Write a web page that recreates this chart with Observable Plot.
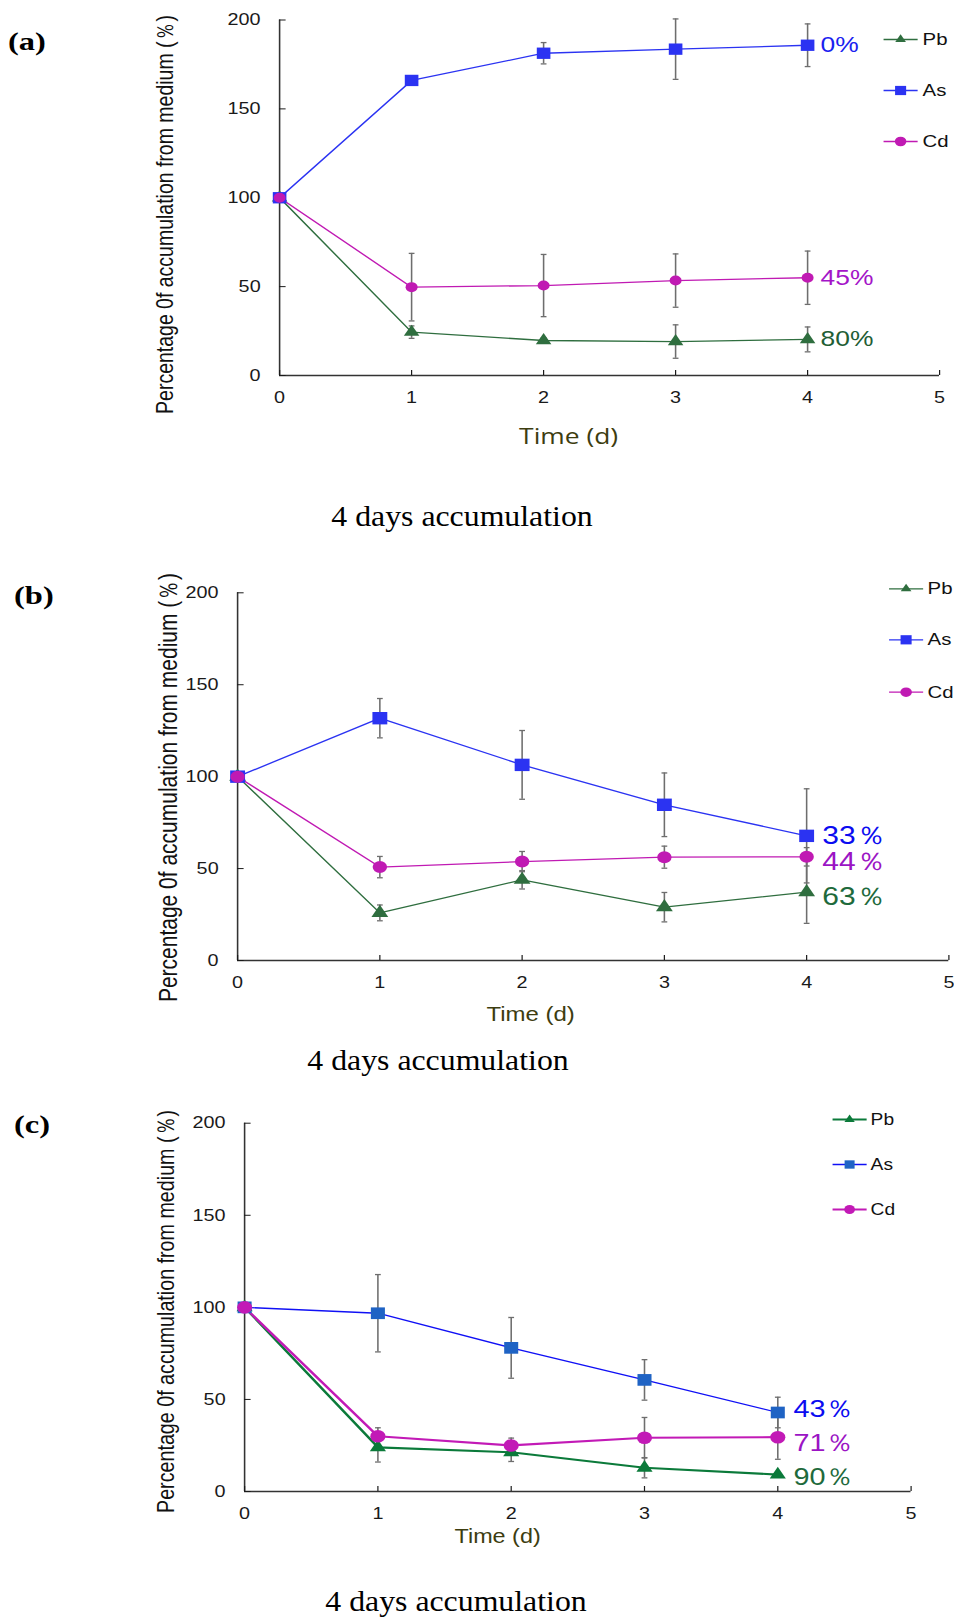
<!DOCTYPE html>
<html><head><meta charset="utf-8">
<script src="https://cdn.jsdelivr.net/npm/d3@7"></script>
<script src="https://cdn.jsdelivr.net/npm/@observablehq/plot@0.6"></script>
<style>
body{margin:0;background:#fff;}
#page{position:relative;width:954px;height:1618px;overflow:hidden;background:#fff;}
.panel{position:absolute;left:0;}
.panel svg{transform:scaleX(1.2);transform-origin:0 0;display:block;}
.letter{position:absolute;font-family:"Liberation Serif","Times New Roman",serif;font-weight:bold;font-size:26px;line-height:1;color:#000;white-space:nowrap;transform:scaleX(1.25);transform-origin:0 0;}
.caption{position:absolute;font-family:"Liberation Serif","Times New Roman",serif;font-size:30px;line-height:1;color:#000;white-space:nowrap;transform:translateX(-50%) scaleX(1.06);}
</style></head><body><div id="page"></div>
<script>
// ---------- data ----------
const days = [0, 1, 2, 3, 4];
const xTicks = [0, 1, 2, 3, 4, 5];
const yTicks = [0, 50, 100, 150, 200];
const metals = ["Pb", "As", "Cd"];

// panel (a)
const pbA = [100, 24.4, 19.7, 19.1, 20.3];
const pbAErr = [0, 3.5, 1.5, 9.4, 7];
const asA = [100, 166, 181.3, 183.6, 185.8];
const asAErr = [0, 0, 6, 17, 12];
const cdA = [100, 49.7, 50.6, 53.4, 55];
const cdAErr = [0, 19, 17.5, 15, 15];
const endLabelsA = ["80%", "0%", "45%"];

// panel (b)
const pbB = [100, 25.9, 43.9, 29, 37.2];
const pbBErr = [0, 4.3, 5, 8, 17];
const asB = [100, 131.8, 106.4, 84.7, 67.8];
const asBErr = [0, 10.7, 18.7, 17.3, 25.6];
const cdB = [100, 50.8, 53.8, 56.2, 56.4];
const cdBErr = [0, 5.8, 5.5, 6, 5];
const endLabelsB = ["63％", "33％", "44％"];

// panel (c)
const pbC = [100, 24, 21.3, 12.9, 9.2];
const pbCErr = [0, 8, 5, 5.5, 0];
const asC = [100, 96.8, 78, 60.6, 42.9];
const asCErr = [0, 21, 16.5, 11, 8.3];
const cdC = [100, 30, 25, 29.2, 29.5];
const cdCErr = [0, 4.6, 4, 11, 12];
const endLabelsC = ["90％", "43％", "71％"];

const yTitle = "Percentage 0f accumulation from medium (％)";
const xTitle = "Time (d)";
const caption = "4 days accumulation";

// ---------- drawing ----------
const S = 1.2;            // horizontal stretch of the original figure
const W = 954 / S;
const page = document.getElementById("page");

const capSym = {draw(c) { c.moveTo(-2.4, 0); c.lineTo(2.4, 0); }};
const legLine = {draw(c) { c.moveTo(-14.2, 0); c.lineTo(14.2, 0); }};
const symbolsOf = {Pb: "triangle", As: "square", Cd: "circle"};

function makePanel(p) {
  const mL = p.x0 / S, mR = W - p.x5 / S, mT = p.yTop, mB = p.height - p.yBot;
  const at = (px, py) => ({frameAnchor: "top-left", dx: px / S - mL, dy: py - mT});
  const series = [
    {name: "Pb", v: p.pb, e: p.pbErr, st: p.style.Pb},
    {name: "As", v: p.as, e: p.asErr, st: p.style.As},
    {name: "Cd", v: p.cd, e: p.cdErr, st: p.style.Cd}
  ];
  const rows = [];
  series.forEach(s => s.v.forEach((v, i) => rows.push({metal: s.name, day: days[i], v, e: s.e[i]})));
  const errRows = rows.filter(d => d.e > 0);
  const marks = [
    Plot.ruleY([0], {stroke: "#333", strokeWidth: 1.3}),
    Plot.ruleX([0], {stroke: "#333", strokeWidth: 1.3}),
    Plot.axisX({ticks: xTicks, tickSize: -5, tickPadding: 21, tickFormat: d => String(d), label: null, color: "#1a1a1a", fontSize: 16.5}),
    Plot.axisY({ticks: yTicks, tickSize: -5.5, tickPadding: 21.3, tickFormat: d => String(d), label: null, color: "#1a1a1a", fontSize: 16.5}),
    Plot.ruleX(errRows, {x: "day", y1: d => d.v - d.e, y2: d => d.v + d.e, stroke: "#6e6e6e", strokeWidth: 1.3}),
    Plot.dot(errRows, {x: "day", y: d => d.v + d.e, symbol: capSym, stroke: "#6e6e6e", fill: "none", strokeWidth: 1.3}),
    Plot.dot(errRows, {x: "day", y: d => d.v - d.e, symbol: capSym, stroke: "#6e6e6e", fill: "none", strokeWidth: 1.3})
  ];
  for (const s of series) {
    marks.push(Plot.line(rows.filter(d => d.metal === s.name), {x: "day", y: "v", stroke: s.st.line, strokeWidth: s.st.lw}));
  }
  for (const s of series) {
    marks.push(Plot.dot(rows.filter(d => d.metal === s.name), {x: "day", y: "v", symbol: symbolsOf[s.name], fill: s.st.marker, stroke: "none", r: s.st.r}));
  }
  // end labels (retention)
  series.forEach((s, k) => {
    const last = rows.filter(d => d.metal === s.name && d.day === 4);
    marks.push(Plot.text(last, {x: "day", y: "v", text: () => p.labels[k], dx: p.labelDx, dy: p.labelDy[k],
      textAnchor: "start", lineAnchor: "middle", fill: s.st.label, fontSize: p.labelSize, fontFamily: "Liberation Sans, Arial, sans-serif"}));
  });
  // legend
  metals.forEach((m, k) => {
    const st = p.style[m];
    const ly = p.legY[k];
    marks.push(Plot.dot([m], {...at(p.legX, ly), symbol: legLine, stroke: st.line, fill: "none", strokeWidth: st.lw}));
    marks.push(Plot.dot([m], {...at(p.legX, ly), symbol: symbolsOf[m], fill: st.marker, stroke: "none", r: st.legR}));
    marks.push(Plot.text([m], {...at(p.legTextX, ly), text: d => d, textAnchor: "start", lineAnchor: "middle", fontSize: p.legSize, fill: "#111"}));
  });
  // axis titles
  marks.push(Plot.text([yTitle], {...at(p.yTitle[0], p.yTitle[1]), text: d => d, rotate: -90, textAnchor: "middle", lineAnchor: "middle",
    fontSize: p.yTitleSize, fill: "#111"}));
  marks.push(Plot.text([xTitle], {...at(p.xTitle[0], p.xTitle[1]), text: d => d, textAnchor: "middle", lineAnchor: "middle",
    fontSize: p.xTitleSize, fontFamily: p.xTitleFont, fill: "#3d3d10"}));

  const svg = Plot.plot({
    width: W, height: p.height,
    marginLeft: mL, marginRight: mR, marginTop: mT, marginBottom: mB,
    x: {domain: [0, 5], label: null},
    y: {domain: [0, 200], label: null},
    style: {fontFamily: "Liberation Sans, Arial, sans-serif", fontSize: "16.5px", background: "transparent", overflow: "visible"},
    marks
  });
  const div = document.createElement("div");
  div.className = "panel";
  div.style.top = p.top + "px";
  div.appendChild(svg);
  page.appendChild(div);

  const letter = document.createElement("div");
  letter.className = "letter";
  letter.textContent = p.letter;
  letter.style.left = p.letterPos[0] + "px";
  letter.style.top = (p.letterPos[1] - 15.1) + "px";
  page.appendChild(letter);

  const cap = document.createElement("div");
  cap.className = "caption";
  cap.textContent = caption;
  cap.style.left = p.capPos[0] + "px";
  cap.style.top = (p.capPos[1] - 15) + "px";
  page.appendChild(cap);
}

const styleAB = {
  Pb: {line: "#2f6e3f", marker: "#2f6e3f", label: "#1f5e35", lw: 1.3, r: 4.8, legR: 3.3},
  As: {line: "#2b33f2", marker: "#2b33f2", label: "#1a22f0", lw: 1.3, r: 6.4, legR: 5.2},
  Cd: {line: "#c01ab3", marker: "#c01ab3", label: "#a414c8", lw: 1.3, r: 5, legR: 4.8}
};

makePanel({
  top: 0, height: 460, x0: 279, x5: 939, yTop: 19.5, yBot: 375,
  pb: pbA, pbErr: pbAErr, as: asA, asErr: asAErr, cd: cdA, cdErr: cdAErr,
  style: styleAB, labels: endLabelsA, labelDx: 10.8, labelDy: [0, 0, 0], labelSize: 22,
  legX: 900, legTextX: 922, legY: [39, 90, 141], legSize: 17,
  yTitle: [165, 214], yTitleSize: 19.5, xTitle: [568, 436], xTitleSize: 22, xTitleFont: "Open Sans, sans-serif",
  letter: "(a)", letterPos: [8, 44.5], capPos: [462, 516]
});

makePanel({
  top: 540, height: 500, x0: 237, x5: 948.3, yTop: 52.3, yBot: 420,
  pb: pbB, pbErr: pbBErr, as: asB, asErr: asBErr, cd: cdB, cdErr: cdBErr,
  style: {
    Pb: {...styleAB.Pb, r: 5.2, label: "#1e6a3c"},
    As: {...styleAB.As, r: 7, label: "#0b0bf0"},
    Cd: {...styleAB.Cd, r: 6, label: "#9b14c4"}
  },
  labels: endLabelsB, labelDx: 13, labelDy: [5, 0, 5], labelSize: 25,
  legX: 905.5, legTextX: 927, legY: [48.3, 99.3, 151.7], legSize: 17,
  yTitle: [168, 247], yTitleSize: 21, xTitle: [530, 474], xTitleSize: 20, xTitleFont: "Liberation Sans, Arial, sans-serif",
  letter: "(b)", letterPos: [14, 598], capPos: [438, 1060]
});

makePanel({
  top: 1090, height: 460, x0: 244, x5: 910.5, yTop: 32.7, yBot: 401,
  pb: pbC, pbErr: pbCErr, as: asC, asErr: asCErr, cd: cdC, cdErr: cdCErr,
  style: {
    Pb: {line: "#0b7a3a", marker: "#0b7a3a", label: "#1e6a3c", lw: 2.2, r: 5, legR: 3.2},
    As: {line: "#1010f5", marker: "#1f63c4", label: "#0b0bf0", lw: 1.3, r: 6.6, legR: 4.7},
    Cd: {line: "#c21ab6", marker: "#c21ab6", label: "#9b14c4", lw: 2.2, r: 6.3, legR: 4.5}
  },
  labels: endLabelsC, labelDx: 13, labelDy: [3, -3, 6], labelSize: 24,
  legX: 849, legTextX: 870, legY: [29, 74, 119], legSize: 16,
  yTitle: [166, 221], yTitleSize: 19.7, xTitle: [497, 446], xTitleSize: 19.5, xTitleFont: "Liberation Sans, Arial, sans-serif",
  letter: "(c)", letterPos: [14, 1127], capPos: [456, 1601]
});
</script></body></html>
